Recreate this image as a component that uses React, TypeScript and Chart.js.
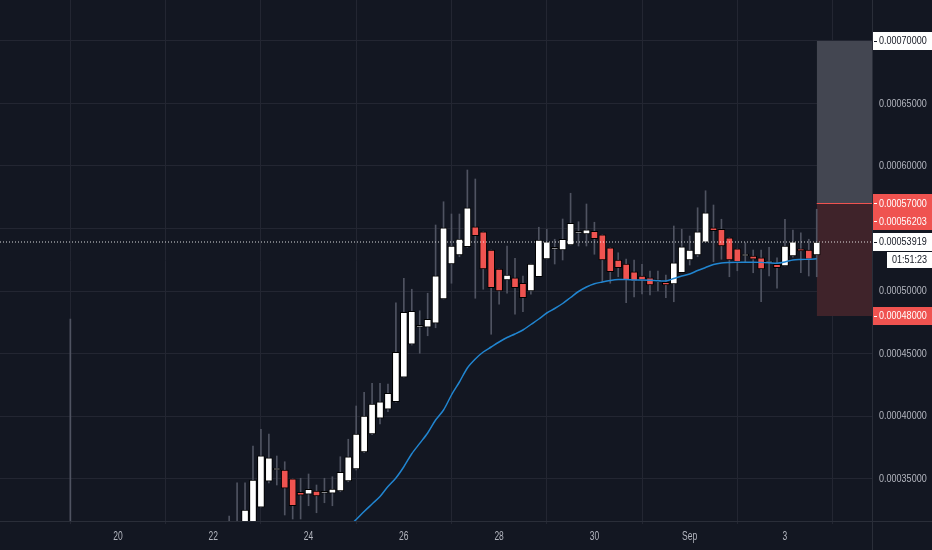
import React, { useEffect, useRef } from 'react';
import { Chart, registerables } from 'chart.js';

Chart.register(...registerables);

// ---- data (prices in units of 1e-5) ----
const U = 1e-5;
// time axis: hours counted from Aug 20 00:00, 4h candles
const FIRST_CANDLE_HOUR = 56; // Aug 22 08:00
const CANDLE_STEP_H = 4;

const opens = [
  30.5, 30.8, 31.0, 31.4, 32.7, 34.78, 35.68, 35.68, 34.98, 33.9,
  33.74, 34.0, 33.82, 33.82, 34.0, 34.8, 35.76, 37.12, 38.56, 39.82,
  40.54, 41.14, 43.1, 45.74, 47.1, 47.1, 47.42, 49.36, 52.16, 52.88,
  53.54, 55.14, 54.74, 53.28, 51.76, 50.88, 51.06, 50.62, 50.0, 51.14,
  52.56, 53.34, 53.28, 53.68, 54.62, 54.56, 54.78, 54.5, 53.46, 52.48,
  52.16, 51.54, 51.2, 51.06, 50.74, 50.7, 50.56, 51.46, 52.48, 52.88,
  53.9, 55.06, 54.94, 54.26, 53.38, 52.8, 52.8, 52.66, 52.24, 52.14,
  52.0, 52.8, 53.38, 53.28, 52.88,
];
const highs = [
  32.0, 34.66, 34.66, 37.6, 38.94, 38.56, 36.8, 36.34, 34.98, 35.02,
  35.36, 34.48, 35.02, 35.14, 36.74, 38.14, 40.8, 41.9, 42.62, 42.62,
  42.56, 49.06, 51.02, 50.14, 48.42, 49.82, 55.28, 57.14, 56.16, 56.16,
  59.68, 58.96, 54.74, 53.28, 51.76, 53.6, 52.62, 51.2, 52.16, 55.1,
  54.94, 54.14, 55.76, 57.82, 55.54, 56.96, 55.5, 54.5, 53.46, 53.06,
  52.56, 52.48, 52.14, 51.6, 51.6, 51.28, 55.2, 54.94, 54.4, 56.66,
  58.02, 56.88, 55.74, 54.26, 53.38, 53.86, 53.28, 53.28, 53.5, 52.66,
  55.74, 54.88, 54.66, 54.14, 56.54,
];
const lows = [
  29.5, 30.0, 30.5, 30.8, 32.7, 34.64, 34.48, 32.08, 31.76, 31.76,
  32.82, 32.26, 33.06, 32.82, 33.94, 34.74, 35.68, 37.06, 38.5, 39.36,
  40.34, 41.1, 43.1, 45.68, 45.02, 46.42, 47.06, 49.36, 50.62, 52.74,
  53.5, 49.42, 50.14, 46.54, 48.94, 49.82, 48.14, 48.34, 49.74, 51.14,
  52.56, 52.16, 52.48, 53.68, 53.6, 53.6, 52.94, 50.74, 50.62, 51.14,
  49.06, 49.52, 49.76, 49.68, 50.0, 49.46, 49.14, 51.46, 52.08, 52.74,
  53.9, 52.34, 52.54, 51.14, 51.62, 52.34, 51.46, 49.14, 51.2, 50.22,
  52.0, 52.7, 51.46, 51.2, 51.14,
];
const closes = [
  31.0, 31.2, 32.48, 34.88, 36.82, 36.66, 35.68, 34.22, 32.82, 33.66,
  34.14, 33.6, 33.82, 34.16, 35.5, 36.74, 38.56, 40.0, 40.96, 41.14,
  41.82, 45.1, 48.3, 48.38, 47.1, 47.74, 51.22, 55.06, 53.6, 54.16,
  56.66, 54.42, 51.76, 50.26, 50.0, 51.28, 50.26, 49.46, 52.16, 54.08,
  53.94, 53.34, 54.14, 55.42, 54.62, 54.9, 54.18, 52.48, 51.54, 51.86,
  50.88, 50.8, 50.88, 50.48, 50.74, 50.48, 52.26, 53.54, 53.28, 54.74,
  56.26, 54.82, 53.6, 52.48, 52.34, 52.8, 52.54, 51.76, 52.24, 51.86,
  53.6, 53.94, 53.2, 52.54, 53.919,
];
// isolated listing candle on Aug 19
const earlyCandleHour = -24;
const earlyCandle = [24.0, 47.76, 20.0, 25.0]; // open, high, low, close

// moving average, starting at candle index 13
const maStartIndex = 13;
const maValues = [
  29.92, 30.48, 31.12, 31.72, 32.36, 32.96, 33.56, 34.36, 35.04, 35.94,
  36.98, 37.81, 38.64, 39.68, 40.48, 41.68, 42.72, 43.84, 44.56, 45.12,
  45.52, 45.92, 46.28, 46.56, 46.88, 47.32, 47.76, 48.24, 48.6, 49.0,
  49.48, 49.96, 50.32, 50.58, 50.72, 50.84, 50.92, 50.92, 50.88, 50.88,
  50.86, 50.82, 50.8, 51.0, 51.2, 51.36, 51.64, 51.88, 52.12, 52.24,
  52.28, 52.3, 52.3, 52.3, 52.29, 52.26, 52.22, 52.32, 52.48, 52.52,
  52.54, 52.58,
];

const xTickHours = [0, 48, 96, 144, 192, 240, 288, 336];
const xTickLabels = ['20', '22', '24', '26', '28', '30', 'Sep', '3'];
const yTickValues = [35, 40, 45, 50, 55, 60, 65, 70];
const yTicksHiddenLabel = [55, 70];

const lastPrice = 53.919;
const countdown = '01:51:23';
const positionStartHour = 352;
const takeProfit = 70;
const entryPrice = 57;
const stopLoss = 48;
const markPrice = 56.203;

// axis labels on the price scale: value, background, text colour
const priceLabelValues = [takeProfit, entryPrice, markPrice, lastPrice, stopLoss];
const priceLabelBg = ['#ffffff', '#ef5350', '#ef5350', '#ffffff', '#ef5350'];
const priceLabelFg = ['#131722', '#ffffff', '#ffffff', '#131722', '#ffffff'];

const xMin = -59.45;
const xMax = 379.85;
const yMin = 31.6;
const yMax = 73.28;

const FONT = "'Liberation Sans', Arial, sans-serif";
const BG = '#131722';
const GRID = '#232632';
const TEXT = '#b2b5be';

function condensedText(ctx: CanvasRenderingContext2D, text: string, x: number, y: number, align: CanvasTextAlign, sx: number) {
  ctx.save();
  ctx.translate(x, y);
  ctx.scale(sx, 1);
  ctx.textAlign = align;
  ctx.fillText(text, 0, 0);
  ctx.restore();
}

export default function App() {
  const ref = useRef<HTMLCanvasElement>(null);

  useEffect(() => {
    document.body.style.margin = '0';
    document.body.style.background = BG;

    const hours = [earlyCandleHour, ...opens.map((_, i) => FIRST_CANDLE_HOUR + CANDLE_STEP_H * i)];
    const O = [earlyCandle[0], ...opens];
    const H = [earlyCandle[1], ...highs];
    const L = [earlyCandle[2], ...lows];
    const C = [earlyCandle[3], ...closes];

    const wickData = hours.map((h, i) => ({ x: h, y: [L[i] * U, H[i] * U] }));
    const bodyData = hours.map((h, i) => ({ x: h, y: [O[i] * U, C[i] * U] }));
    const bodyColors = O.map((o, i) => (C[i] >= o ? '#ffffff' : '#ef5350'));
    const maData = maValues.map((v, k) => ({ x: hours[maStartIndex + k + 1], y: v * U }));

    const chrome = {
      id: 'tvChrome',
      beforeDraw(chart: any) {
        const { ctx, width, height } = chart;
        ctx.save();
        ctx.fillStyle = BG;
        ctx.fillRect(0, 0, width, height);
        ctx.restore();
      },
      afterDraw(chart: any) {
        const { ctx, width, height, chartArea } = chart;
        const ys = chart.scales.y;
        const xs = chart.scales.x;
        const left = Math.round(chartArea.right) + 1;
        ctx.save();
        ctx.strokeStyle = '#2a2e39';
        ctx.lineWidth = 1;
        ctx.beginPath();
        ctx.moveTo(Math.round(chartArea.right) + 0.5, 0);
        ctx.lineTo(Math.round(chartArea.right) + 0.5, height);
        ctx.moveTo(0, Math.round(chartArea.bottom) + 0.5);
        ctx.lineTo(width, Math.round(chartArea.bottom) + 0.5);
        ctx.stroke();

        // regular price-scale labels
        ctx.textBaseline = 'middle';
        ctx.fillStyle = TEXT;
        ctx.font = `10.5px ${FONT}`;
        for (const t of ys.ticks) {
          const u = Math.round(t.value / U);
          if (yTicksHiddenLabel.includes(u)) continue;
          condensedText(ctx, t.value.toFixed(8), left + 6, ys.getPixelForValue(t.value) + 0.5, 'left', 0.86);
        }
        // time-scale labels
        ctx.font = `12.5px ${FONT}`;
        for (const t of xs.ticks) {
          const i = xTickHours.indexOf(t.value);
          if (i < 0) continue;
          condensedText(ctx, xTickLabels[i], xs.getPixelForValue(t.value), chartArea.bottom + 16, 'center', 0.68);
        }

        // special price labels with collision shift
        const items = priceLabelValues
          .map((v, i) => ({ v, y: ys.getPixelForValue(v * U), bg: priceLabelBg[i], fg: priceLabelFg[i] }))
          .sort((a, b) => a.y - b.y);
        const boxH = 18;
        for (let k = 1; k < items.length; k++) {
          if (items[k].y < items[k - 1].y + boxH) items[k].y = items[k - 1].y + boxH;
        }
        ctx.font = `10.5px ${FONT}`;
        let lastY = 0;
        for (const it of items) {
          ctx.fillStyle = it.bg;
          ctx.fillRect(left, Math.round(it.y - boxH / 2), width - left, boxH);
          ctx.strokeStyle = it.fg;
          ctx.beginPath();
          ctx.moveTo(left + 1, Math.round(it.y) + 0.5);
          ctx.lineTo(left + 4, Math.round(it.y) + 0.5);
          ctx.stroke();
          ctx.fillStyle = it.fg;
          condensedText(ctx, (it.v * U).toFixed(8), left + 6, it.y + 0.5, 'left', 0.86);
          if (it.v === lastPrice) lastY = it.y;
        }
        // countdown box under the last price
        const cx0 = left + 14;
        const cy0 = Math.round(lastY + boxH / 2) + 1;
        ctx.fillStyle = '#ffffff';
        ctx.fillRect(cx0, cy0, width - cx0, 16);
        ctx.fillStyle = '#131722';
        condensedText(ctx, countdown, (cx0 + width) / 2, cy0 + 8.5, 'center', 0.86);
        ctx.restore();
      },
    };

    const chart = new Chart(ref.current as HTMLCanvasElement, {
      type: 'bar',
      data: {
        datasets: [
          {
            type: 'line',
            label: 'last',
            data: [{ x: xMin, y: lastPrice * U }, { x: xMax, y: lastPrice * U }],
            borderColor: 'rgba(255,255,255,0.85)',
            borderWidth: 1,
            borderDash: [1, 2],
            pointRadius: 0,
            order: 0,
          },
          {
            type: 'line',
            label: 'MA',
            data: maData,
            borderColor: '#2185d0',
            borderWidth: 1.5,
            pointRadius: 0,
            tension: 0.3,
            order: 1,
          },
          {
            type: 'bar',
            label: 'bodies',
            data: bodyData,
            backgroundColor: bodyColors,
            borderColor: '#000000',
            borderWidth: 1,
            borderSkipped: false,
            barThickness: 7,
            minBarLength: 2,
            grouped: false,
            order: 2,
          },
          {
            type: 'bar',
            label: 'wicks',
            data: wickData,
            backgroundColor: '#4f5361',
            borderWidth: 0,
            barThickness: 1,
            grouped: false,
            order: 3,
          },
          {
            type: 'line',
            label: 'entry',
            data: [{ x: positionStartHour, y: entryPrice * U }, { x: xMax, y: entryPrice * U }],
            borderColor: '#ef5350',
            borderWidth: 1,
            pointRadius: 0,
            order: 4,
          },
          {
            type: 'line',
            label: 'target',
            data: [{ x: positionStartHour, y: takeProfit * U }, { x: xMax, y: takeProfit * U }],
            fill: { value: entryPrice * U },
            backgroundColor: '#434651',
            borderColor: 'transparent',
            borderWidth: 0,
            pointRadius: 0,
            order: 5,
          },
          {
            type: 'line',
            label: 'stop',
            data: [{ x: positionStartHour, y: stopLoss * U }, { x: xMax, y: stopLoss * U }],
            fill: { value: entryPrice * U },
            backgroundColor: '#3f232a',
            borderColor: 'transparent',
            borderWidth: 0,
            pointRadius: 0,
            order: 6,
          },
        ] as any,
      },
      options: {
        responsive: false,
        animation: false,
        layout: { padding: 0 },
        plugins: { legend: { display: false }, tooltip: { enabled: false } },
        scales: {
          x: {
            type: 'linear',
            position: 'bottom',
            min: xMin,
            max: xMax,
            offset: false,
            afterBuildTicks: (s: any) => {
              s.ticks = xTickHours.map((v) => ({ value: v }));
            },
            afterFit: (s: any) => {
              s.height = 29;
              s.paddingLeft = 0;
              s.paddingRight = 0;
            },
            ticks: { display: false, autoSkip: false, maxRotation: 0 },
            grid: { color: GRID, drawTicks: true, tickLength: 3, tickColor: GRID },
            border: { display: false },
          },
          y: {
            type: 'linear',
            position: 'right',
            min: yMin * U,
            max: yMax * U,
            afterBuildTicks: (s: any) => {
              s.ticks = yTickValues.map((v) => ({ value: v * U }));
            },
            afterFit: (s: any) => {
              s.width = 60;
              s.paddingTop = 0;
              s.paddingBottom = 0;
            },
            ticks: { display: false },
            grid: { color: GRID, drawTicks: false },
            border: { display: false },
          },
        },
      } as any,
      plugins: [chrome],
    });
    return () => chart.destroy();
  }, []);

  return (
    <div style={{ width: 932, height: 550, background: BG }}>
      <canvas ref={ref} width={932} height={550} style={{ display: 'block' }} />
    </div>
  );
}
